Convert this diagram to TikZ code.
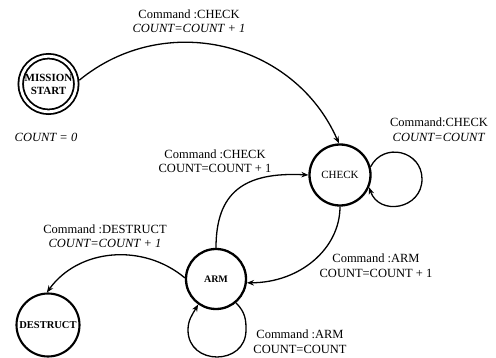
\documentclass[tikz,border=0pt]{standalone}
\usepackage{fontspec}
\setmainfont{Liberation Serif}
\usetikzlibrary{arrows.meta}
\begin{document}
\begin{tikzpicture}[x=1pt,y=-1pt,
  state/.style={circle, draw, line width=2.3pt, inner sep=0pt, fill=white},
  conn/.style={line width=1.3pt, -{Stealth[length=7pt,width=5.5pt]}},
  lbl/.style={align=center, inner sep=0pt, font=\fontsize{12.5}{14.5}\selectfont}]
\useasboundingbox (0,0) rectangle (496,358);
% states
\node[state, double, line width=1.8pt, double distance=2.8pt, minimum size=55.6pt, outer sep=3.2pt,
      font=\fontsize{11}{13}\selectfont\bfseries, align=center] (ms) at (48.5,84) {MISSION\\START};
\node[state, minimum size=61pt, font=\fontsize{11}{13}\selectfont] (check) at (340,175) {CHECK};
\node[state, minimum size=60pt, font=\fontsize{10}{12}\selectfont\bfseries] (arm) at (216,279) {ARM};
\node[state, minimum size=63pt, line width=2.1pt, font=\fontsize{10.5}{12}\selectfont\bfseries] (destr) at (48,325) {DESTRUCT};
% transitions
\draw[conn] (ms.7) .. controls +(-39.4:111) and +(246.4:111) .. (check.92);
\draw[conn] (arm.90) .. controls +(270:55) and +(183:65) .. (check.180);
\draw[conn] (check.270) .. controls +(90:42) and +(0:53) .. (arm.-7);
\draw[conn] (arm.178) .. controls +(-140:54.5) and +(-54.3:54.5) .. (destr.92);
% self loops
\draw[conn] (check.15) .. controls +(-62.8:28.3) and +(-90:28.3) .. (422,179)
  .. controls +(90:30.5) and +(71.2:30.5) .. (check.-23);
\draw[conn] (arm.-50) .. controls +(45:14) and +(-90:9) .. (246,330)
  .. controls +(90:36) and +(90:36) .. (188,330)
  .. controls +(-90:10) and +(120:12) .. (arm.-125);
% labels
\node[lbl] (l1) at (189,21) {Command :CHECK\\\textit{COUNT=COUNT + 1}};
\node[lbl] (l0) at (46,137) {\textit{COUNT = 0}};
\node[lbl] (l2) at (215,161) {Command :CHECK\\COUNT=COUNT + 1};
\node[lbl] (l3) at (439,129.5) {Command:CHECK\\\textit{COUNT=COUNT}};
\node[lbl] (l4) at (105,236) {Command :DESTRUCT\\\textit{COUNT=COUNT + 1}};
\node[lbl] (l5) at (376,265.5) {Command :ARM\\COUNT=COUNT + 1};
\node[lbl] (l6) at (300,341.5) {Command :ARM\\COUNT=COUNT};
\end{tikzpicture}
\end{document}
